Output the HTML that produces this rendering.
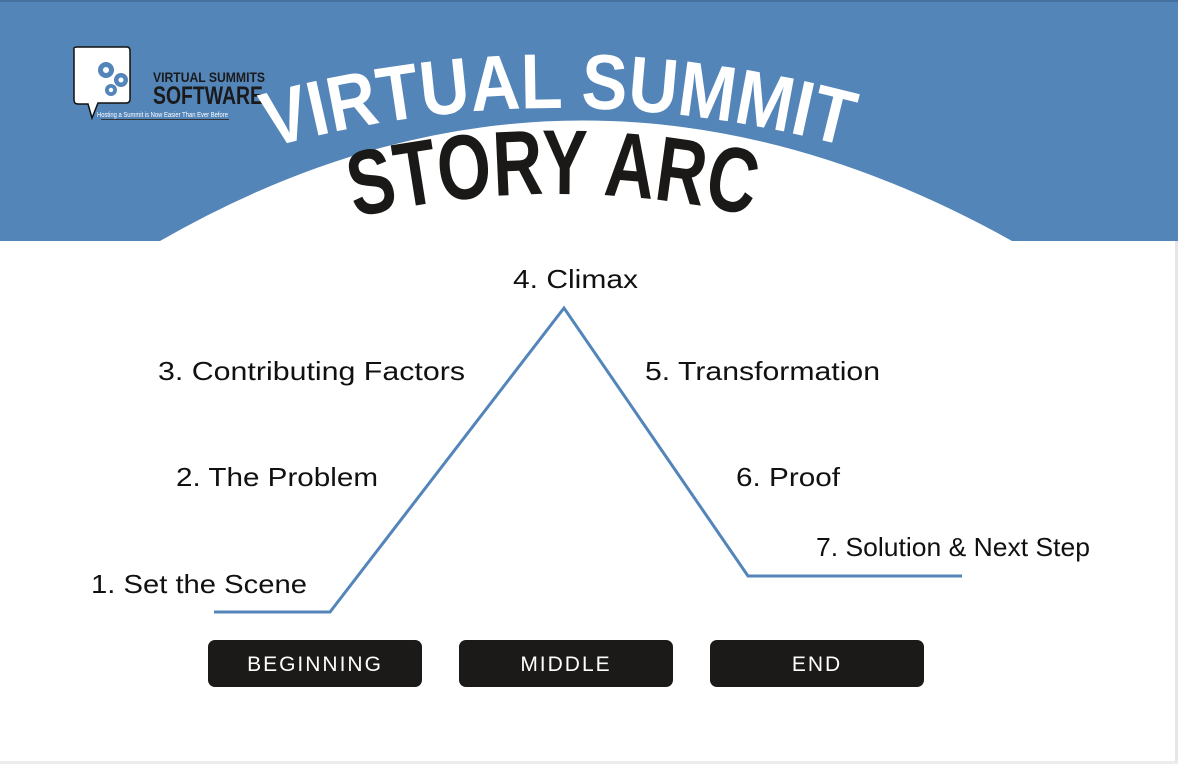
<!DOCTYPE html>
<html><head><meta charset="utf-8"><style>
html,body{margin:0;padding:0;background:#fff}
svg{display:block}
</style></head><body>
<svg width="1178" height="764" viewBox="0 0 1178 764" xmlns="http://www.w3.org/2000/svg">
<rect x="0" y="0" width="1178" height="764" fill="#fff"/>
<path d="M0 0 H1178 V241 H1012 Q580 0 160 241 H0 Z" fill="#5385b9"/>
<rect x="0" y="0" width="1178" height="2" fill="#4670a0"/>
<rect x="1175" y="241" width="3" height="523" fill="#e6e6e6"/>
<rect x="0" y="761" width="1178" height="3" fill="#ececec"/>
<!-- logo -->
<path d="M74 50 Q73 47 77 47 H127 Q130 47 130 51 V99 Q130 103 126 103 H98 L92 118 L88 104 H78 Q74 104 74 100 Z" fill="#fff" stroke="#111" stroke-width="1.5"/>
<g fill="#5385b9">
<circle cx="106" cy="70" r="8"/><circle cx="121" cy="80" r="7"/><circle cx="111" cy="90" r="6"/>
</g>
<g fill="#fff"><circle cx="106" cy="70" r="3"/><circle cx="121" cy="80" r="2.5"/><circle cx="111" cy="90" r="2.2"/></g>
<text x="153" y="82" font-family="Liberation Sans Narrow, Liberation Sans, sans-serif" font-size="14" font-weight="bold" fill="#1a1a1a" textLength="112" lengthAdjust="spacingAndGlyphs">VIRTUAL SUMMITS</text>
<text x="153" y="104" font-family="Liberation Sans Narrow, Liberation Sans, sans-serif" font-size="25" font-weight="bold" fill="#1a1a1a" textLength="110" lengthAdjust="spacingAndGlyphs">SOFTWARE</text>
<text x="97" y="117" font-family="Liberation Sans, sans-serif" font-size="7" fill="#fff" textLength="131" lengthAdjust="spacingAndGlyphs">Hosting a Summit is Now Easier Than Ever Before</text>
<rect x="101" y="119" width="128" height="1" fill="#333"/>
<!-- title -->
<defs>
<path id="a1" d="M262 150 Q555 66 860 150"/>
<path id="a2" d="M345 220 Q555 168 770 220"/>
</defs>
<text font-family="Liberation Sans Narrow, Liberation Sans, sans-serif" font-weight="bold" font-size="78" fill="#fff"><textPath href="#a1" startOffset="8" textLength="585" lengthAdjust="spacingAndGlyphs">VIRTUAL SUMMIT</textPath></text>
<text font-family="Liberation Sans Narrow, Liberation Sans, sans-serif" font-weight="bold" font-size="92" fill="#1a1917"><textPath href="#a2" startOffset="10" textLength="400" lengthAdjust="spacingAndGlyphs">STORY ARC</textPath></text>
<!-- arc line -->
<polyline points="214,612 330,612 564,308 748,576 962,576" fill="none" stroke="#5385b9" stroke-width="3"/>
<g font-family="Liberation Sans, sans-serif" font-size="26" fill="#111">
<text x="91" y="593" textLength="216" lengthAdjust="spacingAndGlyphs">1. Set the Scene</text>
<text x="176" y="486" textLength="202" lengthAdjust="spacingAndGlyphs">2. The Problem</text>
<text x="158" y="380" textLength="307" lengthAdjust="spacingAndGlyphs">3. Contributing Factors</text>
<text x="513" y="288" textLength="125" lengthAdjust="spacingAndGlyphs">4. Climax</text>
<text x="645" y="380" textLength="235" lengthAdjust="spacingAndGlyphs">5. Transformation</text>
<text x="736" y="486" textLength="104" lengthAdjust="spacingAndGlyphs">6. Proof</text>
<text x="816" y="556" textLength="274" lengthAdjust="spacingAndGlyphs">7. Solution &amp; Next Step</text>
</g>
<g fill="#1b1a18">
<rect x="208" y="640" width="214" height="47" rx="7"/>
<rect x="459" y="640" width="214" height="47" rx="7"/>
<rect x="710" y="640" width="214" height="47" rx="7"/>
</g>
<g font-family="Liberation Sans, sans-serif" font-size="21" fill="#fff" text-anchor="middle" letter-spacing="2">
<text x="315" y="671">BEGINNING</text>
<text x="566" y="671">MIDDLE</text>
<text x="817" y="671">END</text>
</g>
</svg>
</body></html>
